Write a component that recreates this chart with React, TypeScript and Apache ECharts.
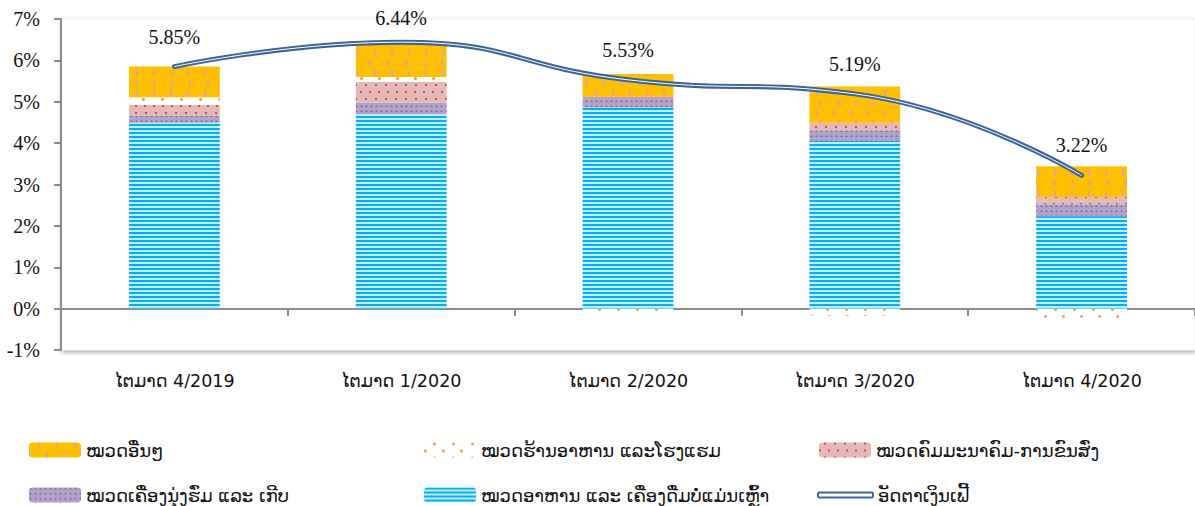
import React, { useEffect, useRef } from "react";
import * as echarts from "echarts";

const categories = ["ໄຕມາດ 4/2019", "ໄຕມາດ 1/2020", "ໄຕມາດ 2/2020", "ໄຕມາດ 3/2020", "ໄຕມາດ 4/2020"];
const food = [4.49, 4.7, 4.86, 4.05, 2.23];
const clothing = [0.18, 0.28, 0.26, 0.26, 0.29];
const transport = [0.26, 0.5, 0, 0.18, 0.18];
const restaurant = [0.18, 0.12, -0.14, -0.18, -0.22];
const others = [0.74, 0.84, 0.55, 0.88, 0.74];
const inflation = [5.85, 6.44, 5.53, 5.19, 3.22];

const N_OTHERS = "ໝວດອື່ນໆ";
const N_REST = "ໝວດຮ້ານອາຫານ ແລະໂຮງແຮມ";
const N_TRANS = "ໝວດຄົມມະນາຄົມ-ການຂົນສົ່ງ";
const N_CLOTH = "ໝວດເຄື່ອງນຸ່ງຮົ່ມ ແລະ ເກີບ";
const N_FOOD = "ໝວດອາຫານ ແລະ ເຄື່ອງດື່ມບໍ່ແມ່ນເຫຼົ້າ";
const N_INF = "ອັດຕາເງິນເຟີ້";

const LAO = "'DejaVu Sans', 'Noto Sans', sans-serif";
const SERIF = "'Liberation Serif', 'DejaVu Serif', serif";
const LINE_BLUE = "#3b6496";

export default function App() {
  const ref = useRef<HTMLDivElement>(null);
  useEffect(() => {
    if (!ref.current) return;
    const chart = echarts.init(ref.current, undefined, { renderer: "svg" });

    const legendPos = [
      { name: N_OTHERS, left: 29, top: 441 },
      { name: N_REST, left: 424, top: 441 },
      { name: N_TRANS, left: 819, top: 441 },
      { name: N_CLOTH, left: 29, top: 486 },
      { name: N_FOOD, left: 424, top: 486 },
      { name: N_INF, left: 817, top: 486 },
    ];

    const legends = legendPos.map((l) => ({
      left: l.left,
      top: l.top,
      padding: 0,
      selectedMode: false,
      itemWidth: l.name === N_INF ? 55 : 52,
      itemHeight: l.name === N_INF ? 5 : 15,
      itemGap: 0,
      textStyle: { fontFamily: LAO, fontSize: 18, color: "#111", lineHeight: 18 },
      data:
        l.name === N_INF
          ? [
              {
                name: l.name,
                icon: "roundRect",
                itemStyle: { color: "#ffffff", borderColor: LINE_BLUE, borderWidth: 1.9 },
              },
            ]
          : [l.name],
    }));

    const barBase = {
      type: "bar",
      stack: "total",
      barWidth: "40%",
      xAxisIndex: 0,
      yAxisIndex: 0,
    };

    const lineData = inflation.map((v, i) =>
      i === 1 ? { value: v, label: { distance: 13 } } : v
    );

    chart.setOption({
      animation: false,
      backgroundColor: "#ffffff",
      grid: {
        left: 61,
        top: 19,
        width: 1136,
        height: 331,
        show: true,
        backgroundColor: "#ffffff",
        borderColor: "#f0f0f0",
        borderWidth: 1,
        shadowColor: "rgba(0,0,0,0.35)",
        shadowBlur: 4,
        shadowOffsetX: 1,
        shadowOffsetY: 2,
      },
      legend: legends,
      xAxis: [
        {
          type: "category",
          data: categories,
          position: "bottom",
          axisLine: { show: false, onZero: false },
          axisTick: { show: false },
          axisLabel: { margin: 22, fontFamily: LAO, fontSize: 17.5, color: "#111" },
        },
        {
          type: "category",
          data: categories,
          position: "bottom",
          axisLine: { show: true, onZero: true, lineStyle: { color: "#8c8c8c", width: 2 } },
          axisTick: { show: true, length: 7, lineStyle: { color: "#8c8c8c", width: 2 } },
          axisLabel: { show: false },
        },
      ],
      yAxis: {
        type: "value",
        min: -1,
        max: 7,
        interval: 1,
        axisLine: { show: true, lineStyle: { color: "#8c8c8c", width: 2 } },
        axisTick: { show: true, length: 7, lineStyle: { color: "#8c8c8c", width: 2 } },
        splitLine: { show: false },
        axisLabel: {
          formatter: "{value}%",
          margin: 21,
          fontFamily: SERIF,
          fontSize: 20,
          color: "#111",
        },
      },
      series: [
        {
          ...barBase,
          name: N_FOOD,
          data: food,
          itemStyle: {
            color: "#c6ecfc",
            decal: {
              symbol: "rect",
              symbolSize: 1,
              color: "#00b0f0",
              dashArrayX: [1, 0],
              dashArrayY: [2, 1.4],
            },
          },
        },
        {
          ...barBase,
          name: N_CLOTH,
          data: clothing,
          itemStyle: {
            color: "#b3a2c8",
            decal: {
              symbol: "triangle",
              symbolSize: 0.9,
              color: "#7d659e",
              dashArrayX: [3, 2],
              dashArrayY: [2, 3],
            },
          },
        },
        {
          ...barBase,
          name: N_TRANS,
          data: transport,
          itemStyle: {
            color: "#e6b9b8",
            decal: {
              symbol: "rect",
              symbolSize: 1,
              color: "#c0504d",
              dashArrayX: [
                [1.6, 7],
                [0, 4.3, 1.6, 2.7],
              ],
              dashArrayY: [1.6, 5],
            },
          },
        },
        {
          ...barBase,
          name: N_REST,
          data: restaurant,
          itemStyle: {
            color: "#ffffff",
            decal: {
              symbol: "circle",
              symbolSize: 1,
              color: "#f79646",
              dashArrayX: [
                [2.2, 15],
                [0, 8.5, 2.2, 6.3],
              ],
              dashArrayY: [2.2, 4],
            },
          },
        },
        {
          ...barBase,
          name: N_OTHERS,
          data: others,
          itemStyle: {
            color: "#ffc000",
            decal: {
              symbol: "rect",
              symbolSize: 1,
              color: "#dba59c",
              dashArrayX: [
                [2, 15],
                [0, 8.5, 2, 6.5],
              ],
              dashArrayY: [6, 4],
            },
          },
        },
        {
          type: "line",
          name: N_INF,
          data: lineData,
          smooth: true,
          showSymbol: true,
          symbol: "circle",
          symbolSize: 2,
          z: 5,
          lineStyle: { color: LINE_BLUE, width: 5, cap: "round" },
          itemStyle: { color: LINE_BLUE },
          label: {
            show: true,
            position: "top",
            distance: 19,
            fontFamily: SERIF,
            fontSize: 20,
            color: "#111",
            formatter: (p: any) => `${Number(p.value).toFixed(2)}%`,
          },
        },
        {
          type: "line",
          name: "_inner",
          data: inflation,
          smooth: true,
          showSymbol: false,
          symbol: "none",
          silent: true,
          z: 6,
          lineStyle: { color: "#ffffff", width: 1, cap: "round" },
          label: { show: false },
        },
      ],
    });

    return () => chart.dispose();
  }, []);

  return (
    <div
      ref={ref}
      style={{ position: "fixed", left: 0, top: 0, width: 1195, height: 506 }}
    />
  );
}
